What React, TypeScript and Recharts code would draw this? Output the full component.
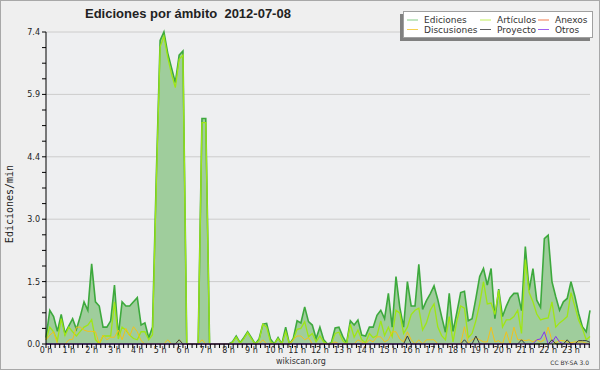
import React from 'react';
import { ComposedChart, Area, Line, XAxis, YAxis, CartesianGrid } from 'recharts';

// one value every 10 minutes, 144 slots for the day
const hourLabels = [
  '0 h', '1 h', '2 h', '3 h', '4 h', '5 h', '6 h', '7 h', '8 h', '9 h', '10 h', '11 h',
  '12 h', '13 h', '14 h', '15 h', '16 h', '17 h', '18 h', '19 h', '20 h', '21 h', '22 h', '23 h',
];
const yTickLabels = ['0.0', '1.5', '3.0', '4.4', '5.9', '7.4'];
const yMax = 7.4;

const ediciones = [
  0.15, 0.8, 0.65, 0.3, 0.7, 0.25, 0.43, 0.6, 0.35, 0.65, 1.0, 0.8,
  1.9, 1.0, 0.9, 0.4, 0.4, 0.55, 1.4, 0.2, 1.0, 0.9, 0.9, 1.0,
  1.1, 0.45, 0.5, 0.15, 0.4, 4.0, 7.2, 7.4, 6.9, 6.55, 6.2, 6.85,
  6.95, 0, 0, 0, 0, 5.35, 5.35, 0, 0, 0, 0, 0,
  0, 0.05, 0.19, 0.03, 0.15, 0.29, 0.15, 0, 0.12, 0.47, 0.49, 0.12,
  0, 0.15, 0, 0.4, 0, 0.13, 0.55, 0.5, 0.88, 0.53, 0.45, 0.13,
  0.4, 0.1, 0, 0.03, 0.38, 0.4, 0.18, 0.02, 0.55, 0.45, 0.57, 0.21,
  0.19, 0.4, 0.4, 0.68, 0.8, 0.6, 1.2, 0.4, 1.6, 0.87, 0.4, 1.48,
  0.9, 0.9, 1.89, 0.82, 1.03, 1.19, 1.38, 1.05, 0.65, 0.28, 1.2, 0.3,
  0.75, 1.22, 1.25, 0.55, 0.6, 1.08, 1.6, 1.79, 1.4, 1.79, 0.6, 1.3,
  0.65, 0.9, 1.1, 1.2, 1.2, 0.79, 2.31, 1.28, 1.79, 1.04, 0.87, 2.5,
  2.58, 1.48, 1.12, 0.8, 1.0, 1.08, 1.48, 1.14, 0.73, 0.41, 0.29, 0.8,
];

const articulos = [
  0.1, 0.4, 0.29, 0.08, 0.6, 0.2, 0.4, 0.29, 0.19, 0.3, 0.4, 0.45,
  0.58, 0.1, 0, 0.19, 0.19, 0.19, 1.0, 0.12, 0.4, 0.33, 0.21, 0.13,
  0.1, 0.29, 0.29, 0.1, 0.22, 3.8, 7.05, 7.3, 6.8, 6.4, 6.08, 6.75,
  6.85, 0, 0, 0, 0, 5.25, 5.25, 0, 0, 0, 0, 0,
  0, 0.03, 0.16, 0.02, 0.12, 0.27, 0.12, 0, 0.08, 0.47, 0.4, 0.05,
  0, 0.13, 0, 0.29, 0, 0.1, 0.35, 0.37, 0.53, 0.17, 0.25, 0.05,
  0.19, 0.05, 0, 0, 0.25, 0.28, 0.08, 0, 0.47, 0.16, 0.33, 0.1,
  0.03, 0.25, 0.15, 0.2, 0.55, 0.2, 0.4, 0.17, 0.8, 0.73, 0.25, 0.4,
  0.7, 0.8, 0.85, 0.33, 0.5, 0.8, 0.95, 0.4, 0.2, 0.1, 0.65, 0.05,
  0.55, 0.9, 0.85, 0.15, 0.25, 0.55, 0.95, 1.48, 0.95, 0.97, 0.7, 1.28,
  0.4, 0.57, 0.58, 0.65, 0.8, 0.25, 2.0, 1.22, 1.0, 0.71, 0.57, 0.6,
  0.62, 1.0, 0.4, 0.5, 0.57, 0.65, 1.22, 0.9, 0.57, 0.37, 0.1, 0.18,
];

const discusiones = [
  0.1, 0.21, 0.29, 0, 0, 0, 0.1, 0.11, 0.4, 0.4, 0.33, 0.3,
  0.3, 0.29, 0, 0.21, 0.1, 0.16, 0.16, 0.33, 0.1, 0.37, 0.19, 0.41,
  0.29, 0.08, 0, 0, 0, 0, 0, 0, 0.1, 0, 0, 0.1,
  0, 0, 0, 0, 0, 0.1, 0, 0, 0, 0, 0, 0,
  0, 0, 0, 0, 0, 0, 0, 0, 0, 0.1, 0, 0,
  0, 0, 0, 0, 0, 0.1, 0.19, 0.19, 0.1, 0.15, 0, 0,
  0, 0, 0, 0, 0.05, 0, 0, 0, 0, 0, 0.1, 0.05,
  0, 0.1, 0.05, 0.17, 0.17, 0.05, 0.1, 0.29, 0.29, 0.12, 0.05, 0.29,
  0.1, 0, 0.1, 0, 0.1, 0.1, 0.1, 0, 0, 0, 0, 0,
  0, 0, 0.41, 0.02, 0.1, 0.15, 0.1, 0.05, 0.05, 0.4, 0.05, 0.08,
  0, 0.29, 0, 0.4, 0.1, 0.1, 0.08, 0.1, 0.05, 0.1, 0.05, 0.1,
  0.4, 0.08, 0.03, 0.08, 0.08, 0.05, 0.03, 0.05, 0.05, 0.05, 0.02, 0,
];

const proyecto = [
  0, 0, 0, 0, 0, 0, 0, 0, 0, 0, 0, 0,
  0, 0, 0, 0, 0, 0, 0, 0, 0, 0, 0, 0,
  0, 0, 0, 0, 0, 0, 0, 0, 0, 0, 0, 0.1,
  0, 0, 0, 0, 0, 0, 0, 0, 0, 0, 0, 0,
  0, 0, 0, 0, 0, 0, 0, 0, 0, 0, 0, 0,
  0, 0, 0, 0, 0, 0, 0, 0, 0, 0, 0, 0,
  0, 0, 0, 0, 0, 0, 0, 0, 0, 0, 0, 0,
  0, 0, 0, 0, 0, 0, 0, 0, 0, 0, 0, 0.19,
  0, 0, 0, 0, 0, 0, 0, 0, 0, 0, 0, 0,
  0, 0, 0.1, 0, 0, 0.19, 0, 0, 0, 0, 0, 0,
  0, 0, 0, 0, 0, 0.1, 0, 0, 0, 0, 0, 0,
  0, 0.1, 0, 0, 0, 0.1, 0, 0, 0.08, 0.08, 0.08, 0.04,
];

const otros = [
  0, 0, 0, 0, 0, 0, 0, 0, 0, 0, 0, 0,
  0, 0, 0, 0, 0, 0, 0, 0, 0, 0, 0, 0,
  0, 0, 0, 0, 0, 0, 0, 0, 0, 0, 0, 0,
  0, 0, 0, 0, 0, 0, 0, 0, 0, 0, 0, 0,
  0, 0, 0, 0, 0, 0, 0, 0, 0, 0, 0, 0,
  0, 0, 0, 0, 0, 0, 0, 0, 0, 0, 0, 0,
  0, 0, 0, 0, 0, 0, 0, 0, 0, 0, 0, 0,
  0, 0, 0, 0, 0, 0, 0, 0, 0, 0, 0, 0,
  0, 0, 0, 0, 0, 0, 0, 0, 0, 0, 0, 0,
  0, 0, 0, 0, 0, 0, 0, 0, 0, 0, 0, 0,
  0, 0, 0, 0, 0, 0, 0, 0, 0, 0.1, 0.12, 0.29,
  0, 0.03, 0.18, 0.05, 0, 0, 0, 0, 0, 0, 0, 0,
];

const colors = {
  ediciones: '#3da93d',
  edicionesFill: '#9fcd9c',
  articulos: '#9fe615',
  anexos: '#f07a4e',
  discusiones: '#f2c21a',
  proyecto: '#3a3a3a',
  otros: '#8833ee',
};

const legendRows = [
  [
    { name: 'Ediciones', color: '#84cc84' },
    { name: 'Artículos', color: '#c0ee5a' },
    { name: 'Anexos', color: colors.anexos },
  ],
  [
    { name: 'Discusiones', color: '#f5d050' },
    { name: 'Proyecto', color: '#606060' },
    { name: 'Otros', color: '#a060f0' },
  ],
];
const legendCols = [407, 480, 538];

const chartData = ediciones.map((v, i) => ({
  slot: i,
  ediciones: v,
  articulos: articulos[i],
  discusiones: discusiones[i],
  proyecto: proyecto[i],
  otros: otros[i],
}));

// minor ticks: 5 per hour on x, 4 per grid step on y
const xTicks = Array.from({ length: 120 }, (_, k) => (k * 6) / 5);
const yTicks = Array.from({ length: 21 }, (_, k) => (k * yMax) / 20);
const yGrid = [1, 2, 3, 4, 5].map(k => (k * yMax) / 5);

const font = 'DejaVu Sans';

const XTick = (props: any) => {
  const { x, y, payload } = props;
  const k = Math.round((payload.value * 5) / 6);
  if (k % 5 !== 0) return <g />;
  return (
    <text x={x} y={y + 3} textAnchor="middle" fontSize={8} fill="#222" fontFamily={font}>
      {hourLabels[k / 5]}
    </text>
  );
};

const YTick = (props: any) => {
  const { x, y, payload } = props;
  const k = Math.round((payload.value * 20) / yMax);
  if (k % 4 !== 0) return <g />;
  return (
    <text x={x} y={y + 3} textAnchor="end" fontSize={8} fill="#222" fontFamily={font}>
      {yTickLabels[k / 4]}
    </text>
  );
};

export default function App() {
  return (
    <div style={{ position: 'absolute', left: 0, top: 0, width: 600, height: 370, background: '#efefef' }}>
      <ComposedChart
        width={600}
        height={370}
        data={chartData}
        margin={{ top: 32, right: 10, bottom: 0, left: 0 }}
      >
        <CartesianGrid fill="#eeeff1" vertical={false} stroke="#cccccc" horizontalValues={yGrid} />
        <XAxis
          dataKey="slot"
          type="number"
          domain={[0, 143]}
          ticks={xTicks}
          interval={0}
          tickSize={4}
          height={26}
          stroke="#000"
          tick={<XTick />}
        />
        <YAxis
          type="number"
          domain={[0, yMax]}
          ticks={yTicks}
          interval={0}
          tickSize={4}
          width={46}
          stroke="#000"
          tick={<YTick />}
        />
        <Area
          type="linear"
          dataKey="ediciones"
          stroke={colors.ediciones}
          strokeWidth={1.6}
          fill={colors.edicionesFill}
          fillOpacity={1}
          dot={false}
          activeDot={false}
          isAnimationActive={false}
        />
        <Line type="linear" dataKey="articulos" stroke={colors.articulos} strokeWidth={1.3} dot={false} activeDot={false} isAnimationActive={false} />
        <Line type="linear" dataKey="discusiones" stroke={colors.discusiones} strokeWidth={1} dot={false} activeDot={false} isAnimationActive={false} />
        <Line type="linear" dataKey="proyecto" stroke={colors.proyecto} strokeWidth={1} dot={false} activeDot={false} isAnimationActive={false} />
        <Line type="linear" dataKey="otros" stroke={colors.otros} strokeWidth={1} dot={false} activeDot={false} isAnimationActive={false} />
      </ComposedChart>

      <svg
        width={600}
        height={370}
        style={{ position: 'absolute', left: 0, top: 0, pointerEvents: 'none' }}
      >
        <rect x={0.5} y={0.5} width={599} height={369} fill="none" stroke="#a8a8a8" />
        <text x={85} y={18} fontSize={13} fontWeight="bold" fill="#222" fontFamily="Liberation Sans" style={{ whiteSpace: 'pre' }}>
          {'Ediciones por ámbito  2012-07-08'}
        </text>
        <text
          x={13}
          y={204}
          transform="rotate(-90 13 204)"
          textAnchor="middle"
          fontSize={10}
          fill="#222"
          fontFamily="DejaVu Sans Mono"
        >
          Ediciones/min
        </text>
        <text x={301} y={364} textAnchor="middle" fontSize={8} fill="#333" fontFamily={font}>
          wikiscan.org
        </text>
        <text x={589} y={365} textAnchor="end" fontSize={6} fill="#333" fontFamily={font}>
          CC BY-SA 3.0
        </text>

        <rect x={400} y={14} width={190} height={27} fill="#808080" />
        <rect x={403.5} y={11.5} width={189} height={26} fill="#ffffff" stroke="#a0a0a0" />
        {legendRows.map((row, r) =>
          row.map((item, c) => (
            <g key={item.name}>
              <line
                x1={legendCols[c]}
                x2={legendCols[c] + 11}
                y1={20 + r * 9.5}
                y2={20 + r * 9.5}
                stroke={item.color}
                strokeWidth={1}
              />
              <text x={legendCols[c] + 17} y={23 + r * 10} fontSize={9} fill="#333" fontFamily={font}>
                {item.name}
              </text>
            </g>
          )),
        )}
      </svg>
    </div>
  );
}
